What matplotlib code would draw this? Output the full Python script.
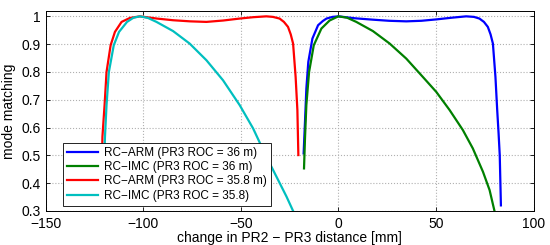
import matplotlib
matplotlib.use('Agg')
import matplotlib.pyplot as plt

plt.rcParams['font.family'] = ['Liberation Sans', 'DejaVu Sans']
plt.rcParams['axes.unicode_minus'] = True

# RC-ARM, PR3 ROC = 36 m
arm36_x = [-17.8, -17.1, -16.4, -15.4, -13.3, -10.4, -8.0, -6.1, -3.0, 0.0, 8.5, 17.7, 26.0,
           34.8, 42.5, 50.2, 58.0, 65.5, 69.5, 72.3, 74.6, 76.6, 78.0, 79.2, 80.5, 81.4,
           82.1, 82.7, 83.3]
arm36_y = [0.507, 0.621, 0.740, 0.836, 0.920, 0.968, 0.983, 0.992, 0.998, 1.000, 0.993, 0.988, 0.984,
           0.982, 0.984, 0.989, 0.995, 1.000, 0.998, 0.992, 0.980, 0.962, 0.935, 0.902, 0.782, 0.663,
           0.580, 0.501, 0.320]

# RC-IMC, PR3 ROC = 36 m
imc36_x = [-17.6, -17.1, -16.4, -15.0, -12.6, -8.7, -4.5, 0.0, 4.5, 9.2, 17.7, 26.3,
           34.8, 43.3, 50.2, 57.0, 63.8, 68.9, 74.1, 77.5, 80.0]
imc36_y = [0.453, 0.561, 0.681, 0.800, 0.896, 0.956, 0.985, 1.000, 0.995, 0.980, 0.947, 0.902,
           0.848, 0.782, 0.728, 0.663, 0.591, 0.525, 0.441, 0.375, 0.300]

# RC-ARM, PR3 ROC = 35.8 m
arm358_x = [-121.3, -120.9, -119.8, -118.8, -116.7, -114.5, -111.1, -106.9, -101.7,
            -93.0, -84.7, -76.0, -67.6, -59.0, -50.6, -43.5, -36.9, -33.5, -30.1, -27.9,
            -25.8, -24.4, -23.2, -21.9, -21.0, -20.5]
arm358_y = [0.420, 0.567, 0.681, 0.800, 0.896, 0.944, 0.980, 0.994, 1.000,
            0.992, 0.986, 0.982, 0.980, 0.985, 0.992, 0.997, 1.000, 0.998, 0.992, 0.980,
            0.962, 0.935, 0.902, 0.782, 0.663, 0.501]

# RC-IMC, PR3 ROC = 35.8
imc358_x = [-120.3, -119.6, -118.8, -117.6, -115.1, -112.4, -108.3, -105.0, -101.7, -97.5,
            -93.2, -84.7, -76.2, -67.6, -59.1, -50.6, -43.7, -36.9, -31.7, -26.6, -23.2]
imc358_y = [0.420, 0.567, 0.681, 0.800, 0.896, 0.944, 0.980, 0.995, 1.000, 0.994,
            0.980, 0.947, 0.902, 0.842, 0.770, 0.681, 0.597, 0.495, 0.423, 0.352, 0.300]

labels = ['RC\u2212ARM (PR3 ROC = 36 m)', 'RC\u2212IMC (PR3 ROC = 36 m)',
          'RC\u2212ARM (PR3 ROC = 35.8 m)', 'RC\u2212IMC (PR3 ROC = 35.8)']

fig = plt.figure(figsize=(5.5, 2.45), dpi=100)
ax = fig.add_axes([0.083, 0.139, 0.887, 0.817])

ax.plot(arm36_x, arm36_y, color='#0000ff', lw=1.6, label=labels[0])
ax.plot(imc36_x, imc36_y, color='#008000', lw=1.6, label=labels[1])
ax.plot(arm358_x, arm358_y, color='#ff0000', lw=1.6, label=labels[2])
ax.plot(imc358_x, imc358_y, color='#00bfbf', lw=1.6, label=labels[3])

ax.set_xlim(-150, 100)
ax.set_ylim(0.3, 1.02)
ax.set_xticks([-150, -100, -50, 0, 50, 100])
ax.set_yticks([0.3, 0.4, 0.5, 0.6, 0.7, 0.8, 0.9, 1.0])
ax.set_yticklabels(['0.3', '0.4', '0.5', '0.6', '0.7', '0.8', '0.9', '1'])
ax.tick_params(direction='in', top=True, right=True, labelsize=10, length=3, width=0.6)
ax.tick_params(axis='x', pad=4.5)
ax.grid(True, linestyle=':', color='#b0b0b0', linewidth=0.8)
for s in ax.spines.values():
    s.set_linewidth(0.7)

ax.set_xlabel('change in PR2 \u2212 PR3 distance [mm]', fontsize=10, labelpad=0)
ax.set_ylabel('mode matching', fontsize=10, labelpad=4)

leg = ax.legend(loc='lower left', bbox_to_anchor=(0.036, 0.025), borderaxespad=0,
                fontsize=8.5, fancybox=False, edgecolor='black', framealpha=1,
                handlelength=2.6, handletextpad=0.5, labelspacing=0.2, borderpad=0.35)
leg.get_frame().set_linewidth(0.6)

fig.savefig('out.png', dpi=100)
